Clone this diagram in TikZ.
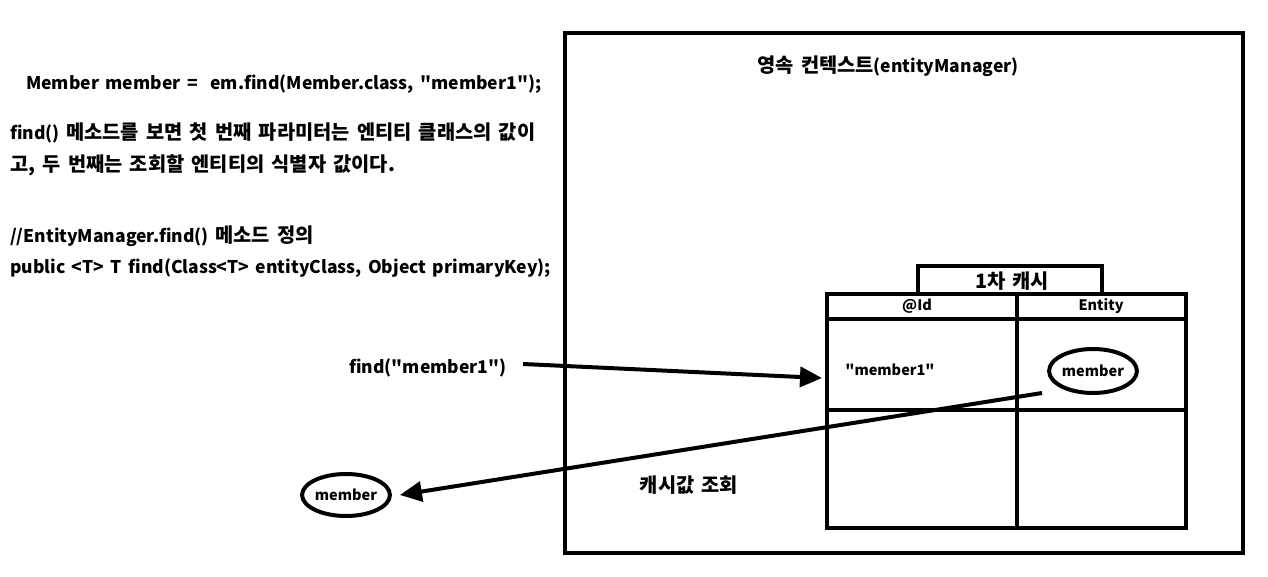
\documentclass[tikz,border=0pt]{standalone}
\usepackage{fontspec}
\setmainfont{Noto Sans CJK KR}[Ligatures=TeXOff,WordSpace=1.6]
\newfontfamily\kr{Noto Sans CJK KR}[Ligatures=TeXOff,Scale=1.13,WordSpace=1.6]
\usetikzlibrary{arrows.meta,shapes.geometric}
\tikzset{
  thick box/.style={draw,line width=4.5pt},
  txt/.style={font=\bfseries\fontsize{17.5}{21}\selectfont,inner sep=0pt},
  celltxt/.style={font=\bfseries\fontsize{14.5}{17}\selectfont,inner sep=0pt},
  oval/.style={draw,ellipse,line width=4pt,inner sep=0pt},
  bigarrow/.style={line width=4pt,-{Triangle[length=22pt,width=20pt]}},
}
\begin{document}
\begin{tikzpicture}[x=1pt,y=-1pt]
\useasboundingbox (0,0) rectangle (1268,577);
% left texts
\node[txt,anchor=west] (l1) at (26,84) {Member member =\ \ em.find(Member.class, "member1");};
\node[txt,anchor=west] (l2) at (10,133) {find() {\kr 메소드를 보면 첫 번째 파라미터는 엔티티 클래스의 값이}};
\node[txt,anchor=west] (l3) at (10,165) {\kr 고, 두 번째는 조회할 엔티티의 식별자 값이다.};
\node[txt,anchor=west] (l4) at (10,236) {//EntityManager.find() {\kr 메소드 정의}};
\node[txt,anchor=west] (l5) at (10,268) {public <T> T find(Class<T> entityClass, Object primaryKey);};
% persistence context
\draw[thick box] (565,33) rectangle (1243,553);
\node[txt] (title) at (888,66) {{\kr 영속 컨텍스트}(entityManager)};
% cache
\draw[line width=4pt] (918,294) -- (918,266) -- (1102,266) -- (1102,294);
\node[txt] (cache) at (1012,281) {\kr 1차 캐시};
\draw[line width=4pt] (827,294) rectangle (1186,528);
\draw[line width=4pt] (827,319) -- (1186,319);
\draw[line width=4pt] (827,410) -- (1186,410);
\draw[line width=4pt] (1017,294) -- (1017,528);
\node[celltxt] (hid) at (917,306) {@Id};
\node[celltxt] (hent) at (1101,306) {Entity};
\node[celltxt] (key) at (890,370) {"member1"};
\node[oval,minimum width=86pt,minimum height=44pt,celltxt] (ment) at (1093,371) {member};
% outside
\node[txt] (findlbl) at (428,368) {find("member1")};
\coordinate (a1s) at (523,364);
\coordinate (a1e) at (822,378);
\draw[bigarrow] (a1s) -- (a1e);
\node[oval,minimum width=82pt,minimum height=42pt,celltxt] (mout) at (346,495) {member};
\coordinate (a2s) at (1042,393);
\draw[bigarrow] (a2s) -- ([xshift=8pt]mout.east);
\node[txt] (lookup) at (689,485) {\kr 캐시값 조회};
\end{tikzpicture}
\end{document}
